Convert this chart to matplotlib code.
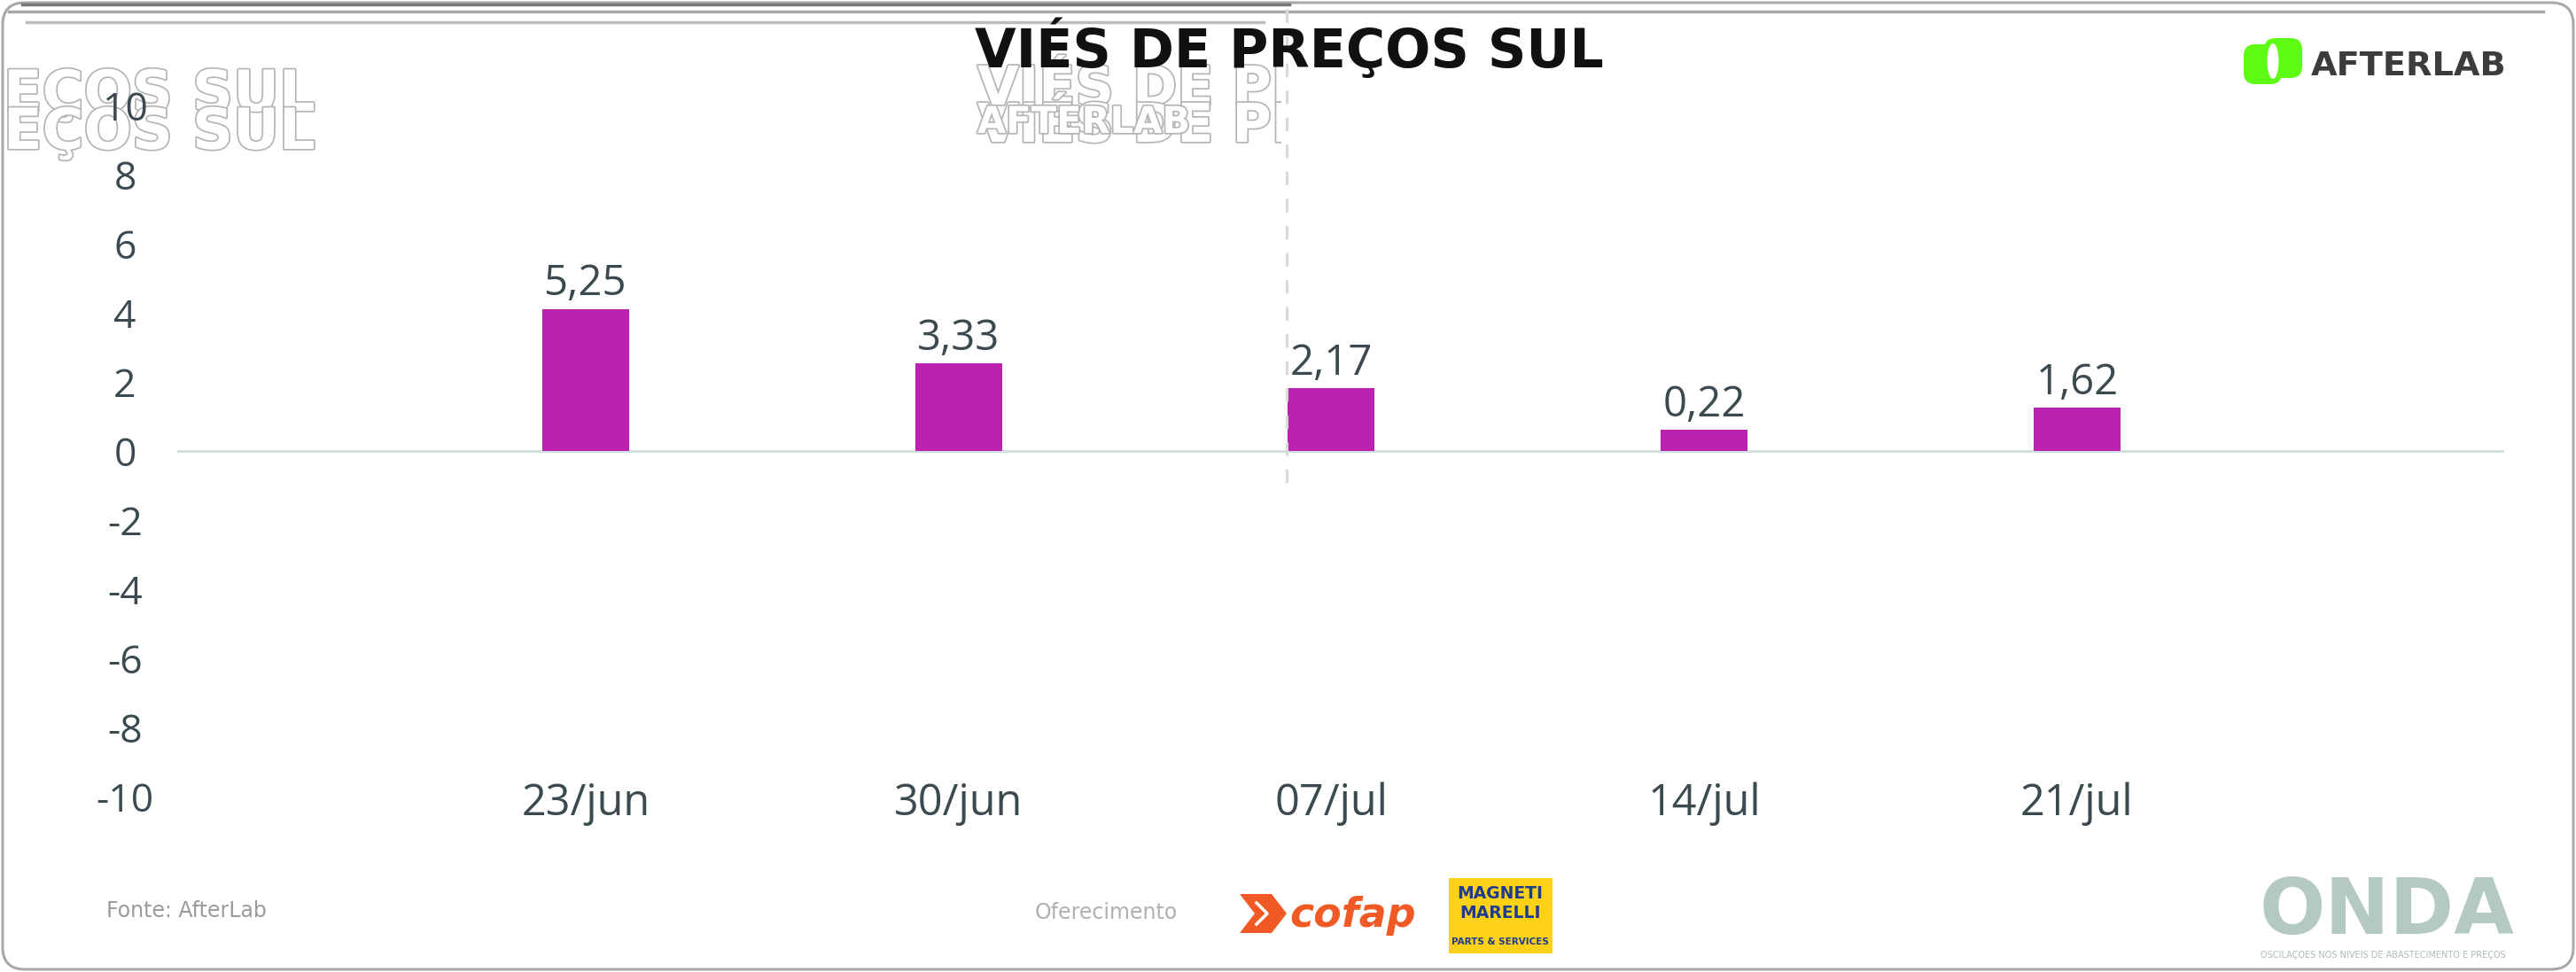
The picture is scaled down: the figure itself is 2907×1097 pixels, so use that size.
import matplotlib
matplotlib.use("Agg")
import matplotlib.pyplot as plt
from matplotlib.patches import FancyBboxPatch, Rectangle, Polygon, Ellipse
from matplotlib.lines import Line2D
from matplotlib.transforms import Bbox
import matplotlib.patheffects as pe

# data
dates = ["23/jun", "30/jun", "07/jul", "14/jul", "21/jul"]
bar_heights = [4.11, 2.53, 1.81, 0.61, 1.25]   # as drawn against the y axis
bar_labels = ["5,25", "3,33", "2,17", "0,22", "1,62"]
y_ticks = [10, 8, 6, 4, 2, 0, -2, -4, -6, -8, -10]
y_tick_labels = [str(t) for t in y_ticks]

W, H = 2907, 1097
text_col = "#3b4a4f"
bar_col = "#bc22b0"

plt.rcParams["font.family"] = ["Open Sans", "DejaVu Sans"]

fig = plt.figure(figsize=(W / 100, H / 100), dpi=100)
inch = fig.dpi_scale_trans


def fx(x):
    return x / W


def fy(y):
    return 1 - y / H


# ---- chart ----
left, right, top, bottom = 200, 2826, 119, 899
ax = fig.add_axes([fx(left), fy(bottom), (right - left) / W, (bottom - top) / H])
ax.patch.set_visible(False)
pos = list(range(len(dates)))
ax.bar(pos, bar_heights, width=0.233, color=bar_col, zorder=3)
ax.axhline(0, color="#d3dfdf", lw=2.2, zorder=2)
ax.set_xlim(-1.096, 5.146)
ax.set_ylim(-10, 10)
for s in ax.spines.values():
    s.set_visible(False)

ax.set_yticks(y_ticks, labels=y_tick_labels)
ax.tick_params(axis="y", length=0, pad=42.5, labelsize=32, labelcolor=text_col)
for lab in ax.get_yticklabels():
    lab.set_horizontalalignment("center")

ax.set_xticks(pos, labels=dates)
ax.tick_params(axis="x", length=0, pad=15, labelsize=35, labelcolor=text_col)
for lab in ax.get_xticklabels():
    lab.set_verticalalignment("baseline")

for p, h, t in zip(pos, bar_heights, bar_labels):
    ax.annotate(t, (p, h), xytext=(0, 11), textcoords="offset points",
                ha="center", va="baseline", fontsize=34, color=text_col)

# ---- ghost copies of the heading (render glitch in the source) ----
ghost = [pe.withStroke(linewidth=2.5, foreground="#b5b5b5")]
for yb in (125, 168):
    fig.text(fx(4), fy(yb), "EÇOS SUL", ha="left", va="baseline",
             fontsize=46, fontweight="bold", family="DejaVu Sans",
             color="white", path_effects=ghost, zorder=-1)
clip = Bbox([[1090, 0], [1446, H]])
for yb, txt, fs in ((118, "VIÉS DE PR", 43.5), (160, "VIÉS DE PR", 43.5),
                    (150, "AFTERLAB", 30)):
    g = fig.text(fx(1103), fy(yb), txt, ha="left", va="baseline", fontsize=fs,
                 fontweight="bold", family="DejaVu Sans", color="white",
                 path_effects=ghost, zorder=-1)
    g.set_clip_on(True)
    g.set_clip_box(clip)

# title
fig.text(fx(1455), fy(76), "VIÉS DE PREÇOS SUL", ha="center", va="baseline",
         fontsize=43.5, fontweight="bold", family="DejaVu Sans", color="#111111",
         zorder=5)

# frame
fig.add_artist(FancyBboxPatch((0.03, 0.03), W / 100 - 0.06, H / 100 - 0.06,
                              boxstyle="round,pad=0,rounding_size=0.25",
                              transform=inch, fill=False, ec="#a9a9a9", lw=2.2))
fig.add_artist(Line2D([0.1, 28.7], [(H - 13) / 100] * 2, transform=inch,
                      color="#a9a9a9", lw=2.5))
fig.add_artist(Line2D([0.25, 14.55], [(H - 5) / 100] * 2, transform=inch,
                      color="#777777", lw=2.5))
fig.add_artist(Line2D([0.3, 14.26], [(H - 25) / 100] * 2, transform=inch,
                      color="#bdbdbd", lw=2.5))
fig.add_artist(Line2D([14.52, 14.52], [(H - 10) / 100, (H - 547) / 100],
                      transform=inch, color="#d9d9d9", lw=2.2,
                      linestyle=(0, (5, 5))))

# AfterLab logo
green = "#5efc14"
fig.add_artist(FancyBboxPatch((25.32, (H - 95) / 100), 0.43, 0.45,
                              boxstyle="round,pad=0,rounding_size=0.13",
                              transform=inch, fc=green, ec="none"))
fig.add_artist(FancyBboxPatch((25.55, (H - 88) / 100), 0.43, 0.45,
                              boxstyle="round,pad=0,rounding_size=0.13",
                              transform=inch, fc=green, ec="none"))
fig.add_artist(Ellipse((25.65, (H - 69) / 100), 0.13, 0.40, transform=inch,
                       fc="white", ec="none"))
fig.text(fx(2608), fy(85), "AFTERLAB", ha="left", va="baseline", fontsize=27.5,
         fontweight="bold", family="DejaVu Sans", color="#3c3c3c")

# footer
fig.text(fx(120), fy(1035), "Fonte: AfterLab", ha="left", va="baseline",
         fontsize=17, color="#9b9b9b", family="DejaVu Sans")
fig.text(fx(1168), fy(1030), "Oferecimento", ha="left", va="center",
         fontsize=17, color="#b0b0b0", family="DejaVu Sans")

orange = "#f15a24"
ico = [(1399, 1009), (1435, 1009), (1452, 1031), (1435, 1053), (1399, 1053), (1416, 1031)]
fig.add_artist(Polygon([(x / 100, (H - y) / 100) for x, y in ico], closed=True,
                       transform=inch, fc=orange, ec="none"))
fig.add_artist(Line2D([14.18, 14.30, 14.18],
                      [(H - 1019) / 100, (H - 1031) / 100, (H - 1043) / 100],
                      transform=inch, color="white", lw=2.5))
fig.text(fx(1455), fy(1046), "cofap", ha="left", va="baseline", fontsize=33,
         fontweight="bold", style="italic", family="DejaVu Sans", color=orange)

fig.add_artist(Rectangle((16.35, (H - 1076) / 100), 1.17, 0.85, transform=inch,
                         fc="#fcd116", ec="none"))
blue = "#1f3b8f"
fig.text(fx(1693), fy(1008), "MAGNETI", ha="center", va="center", fontsize=13.5,
         fontweight="bold", family="DejaVu Sans", color=blue)
fig.text(fx(1693), fy(1031), "MARELLI", ha="center", va="center", fontsize=13.5,
         fontweight="bold", family="DejaVu Sans", color=blue)
fig.text(fx(1693), fy(1063), "PARTS & SERVICES", ha="center", va="center",
         fontsize=7.5, fontweight="bold", family="DejaVu Sans", color=blue)

fig.text(fx(2550), fy(1054), "ONDA", ha="left", va="baseline", fontsize=63,
         fontweight="bold", family="DejaVu Sans", color="#b3c9c2")
fig.text(fx(2551), fy(1078), "OSCILAÇOES NOS NIVEIS DE ABASTECIMENTO E PREÇOS",
         ha="left", va="center", fontsize=7, family="DejaVu Sans", color="#a9bdb8")

fig.savefig("out.png", dpi=100)
